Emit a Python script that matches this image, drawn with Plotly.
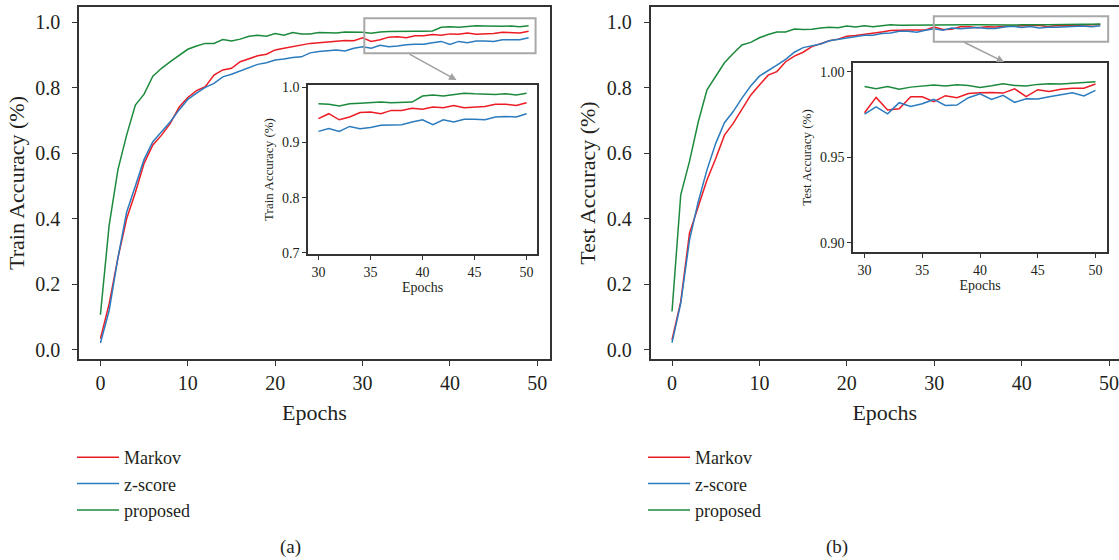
import plotly.graph_objects as go

# ---------------- data ----------------
epochs = list(range(50))

train_markov = [0.034, 0.14, 0.28, 0.40, 0.48, 0.569, 0.625, 0.655, 0.691, 0.74,
                0.770, 0.791, 0.803, 0.838, 0.854, 0.859, 0.879, 0.889, 0.897, 0.902,
                0.915, 0.92, 0.925, 0.932, 0.935, 0.937, 0.94, 0.942, 0.944,
                0.943, 0.952, 0.941, 0.946, 0.954, 0.955, 0.952, 0.958, 0.958, 0.962,
                0.960, 0.964, 0.963, 0.967, 0.963, 0.964, 0.965, 0.969, 0.969, 0.967, 0.972]
train_zscore = [0.021, 0.12, 0.28, 0.42, 0.50, 0.581, 0.635, 0.666, 0.696, 0.732,
                0.764, 0.783, 0.801, 0.813, 0.833, 0.841, 0.851, 0.859, 0.871, 0.876,
                0.884, 0.887, 0.892, 0.894, 0.906, 0.910, 0.912, 0.915, 0.912,
                0.920, 0.925, 0.920, 0.929, 0.925, 0.927, 0.931, 0.932, 0.932, 0.937,
                0.941, 0.932, 0.941, 0.937, 0.942, 0.942, 0.941, 0.946, 0.947, 0.946, 0.952]
train_proposed = [0.107, 0.38, 0.549, 0.655, 0.747, 0.78, 0.835, 0.859, 0.879, 0.899,
                  0.917, 0.927, 0.935, 0.935, 0.947, 0.942, 0.948, 0.957, 0.960, 0.957,
                  0.965, 0.960, 0.968, 0.964, 0.964, 0.968, 0.967, 0.967, 0.970,
                  0.970, 0.969, 0.966, 0.970, 0.971, 0.972, 0.973, 0.972, 0.972, 0.973,
                  0.984, 0.986, 0.984, 0.986, 0.989, 0.988, 0.987, 0.987, 0.988, 0.986, 0.989]

test_markov = [0.03, 0.147, 0.356, 0.437, 0.518, 0.584, 0.655, 0.691, 0.732, 0.777,
               0.808, 0.838, 0.849, 0.879, 0.896, 0.908, 0.925, 0.933, 0.943, 0.948,
               0.957, 0.959, 0.962, 0.967, 0.970, 0.974, 0.976, 0.976, 0.976,
               0.976, 0.985, 0.9776, 0.9784, 0.9854, 0.9854, 0.9825, 0.986, 0.9848, 0.9873,
               0.9877, 0.9879, 0.9875, 0.990, 0.9854, 0.9895, 0.9885, 0.9897, 0.9904, 0.9904, 0.9928]
test_zscore = [0.022, 0.142, 0.335, 0.452, 0.549, 0.630, 0.693, 0.727, 0.768, 0.805,
               0.835, 0.851, 0.869, 0.886, 0.908, 0.922, 0.927, 0.933, 0.943, 0.947,
               0.953, 0.955, 0.960, 0.960, 0.965, 0.967, 0.972, 0.972, 0.969,
               0.9752, 0.9795, 0.9754, 0.9819, 0.9797, 0.9813, 0.9838, 0.9803, 0.9805, 0.9848,
               0.9871, 0.9838, 0.9862, 0.9821, 0.9842, 0.984, 0.9854, 0.9867, 0.9877, 0.9858, 0.9891]
test_proposed = [0.117, 0.473, 0.575, 0.695, 0.793, 0.835, 0.876, 0.904, 0.930, 0.938,
                 0.952, 0.962, 0.970, 0.970, 0.979, 0.977, 0.978, 0.982, 0.984, 0.983,
                 0.988, 0.985, 0.989, 0.986, 0.988, 0.992, 0.990, 0.990, 0.991,
                 0.9914, 0.990, 0.9914, 0.9897, 0.991, 0.9918, 0.9922, 0.9916, 0.9924, 0.992,
                 0.9908, 0.9918, 0.993, 0.992, 0.9916, 0.9926, 0.993, 0.9928, 0.9934, 0.9936, 0.9942]

series_names = ["Markov", "z-score", "proposed"]
colors = ["#ec1c24", "#2b7bbf", "#1c8a3c"]

INSET_FROM = 29  # inset shows the last 21 epochs, labelled 30..50
inset_epochs = [e + 1 for e in epochs[INSET_FROM:]]

FONT = "Liberation Serif, Times New Roman, serif"
TXT = "#231f20"
W, H = 1119, 560


def px_x(p):
    return p / W


def px_y(p):
    return 1 - p / H


fig = go.Figure()

train = [train_markov, train_zscore, train_proposed]
test = [test_markov, test_zscore, test_proposed]

for name, col, ys in zip(series_names, colors, train):
    fig.add_trace(go.Scatter(x=epochs, y=ys, mode="lines", name=name,
                             line=dict(color=col, width=1.5),
                             xaxis="x", yaxis="y", legend="legend"))
    fig.add_trace(go.Scatter(x=inset_epochs, y=ys[INSET_FROM:], mode="lines", name=name,
                             line=dict(color=col, width=1.5), showlegend=False,
                             xaxis="x2", yaxis="y2"))
for name, col, ys in zip(series_names, colors, test):
    fig.add_trace(go.Scatter(x=epochs, y=ys, mode="lines", name=name,
                             line=dict(color=col, width=1.5),
                             xaxis="x3", yaxis="y3", legend="legend2"))
    fig.add_trace(go.Scatter(x=inset_epochs, y=ys[INSET_FROM:], mode="lines", name=name,
                             line=dict(color=col, width=1.5), showlegend=False,
                             xaxis="x4", yaxis="y4"))

axcol = "#333333"
main_common = dict(showline=True, linecolor=axcol, linewidth=1.5, ticks="outside",
                   ticklen=5, tickwidth=1.2, tickcolor=axcol, showgrid=False, zeroline=False,
                   tickfont=dict(family=FONT, size=20, color=TXT), automargin=False)
inset_common = dict(showline=True, linecolor=axcol, linewidth=1.5, mirror=True,
                    ticks="outside", ticklen=4, tickwidth=1.1, tickcolor=axcol,
                    showgrid=False, zeroline=False,
                    tickfont=dict(family=FONT, size=14, color=TXT), automargin=False)

main_y_dom = [px_y(359), px_y(7)]

fig.update_layout(
    width=W, height=H,
    margin=dict(l=0, r=0, t=0, b=0),
    paper_bgcolor="white", plot_bgcolor="white",
    font=dict(family=FONT, color=TXT),
    xaxis=dict(domain=[px_x(79), px_x(550)], range=[-2.45, 51.45], tickvals=[0, 10, 20, 30, 40, 50],
               mirror=True, anchor="y", ticklabeloverflow="allow",
               title=dict(text="Epochs", font=dict(family=FONT, size=22, color=TXT), standoff=12),
               **main_common),
    yaxis=dict(domain=main_y_dom, range=[-0.028, 1.046], tickvals=[0, 0.2, 0.4, 0.6, 0.8, 1.0],
               tickformat=".1f", mirror=True, anchor="x", ticklabelstandoff=8,
               title=dict(text="Train Accuracy (%)", font=dict(family=FONT, size=22, color=TXT), standoff=5),
               **main_common),
    xaxis2=dict(domain=[px_x(308), px_x(537)], range=[29, 51], tickvals=[30, 35, 40, 45, 50],
                anchor="y2",
                title=dict(text="Epochs", font=dict(family=FONT, size=14, color=TXT), standoff=3),
                **inset_common),
    yaxis2=dict(domain=[px_y(254), px_y(85)], range=[0.698, 1.004], tickvals=[0.7, 0.8, 0.9, 1.0],
                tickformat=".1f", anchor="x2",
                title=dict(text="Train Accuracy (%)", font=dict(family=FONT, size=13, color=TXT), standoff=5),
                **inset_common),
    xaxis3=dict(domain=[px_x(650.6), 1.0], range=[-2.45, 51.14], tickvals=[0, 10, 20, 30, 40, 50],
                mirror=True, anchor="y3", ticklabeloverflow="allow",
                title=dict(text="Epochs", font=dict(family=FONT, size=22, color=TXT), standoff=12),
                **main_common),
    yaxis3=dict(domain=main_y_dom, range=[-0.028, 1.046], tickvals=[0, 0.2, 0.4, 0.6, 0.8, 1.0],
                tickformat=".1f", mirror=False, anchor="x3", ticklabelstandoff=8,
                title=dict(text="Test Accuracy (%)", font=dict(family=FONT, size=22, color=TXT), standoff=5),
                **main_common),
    xaxis4=dict(domain=[px_x(853), px_x(1107)], range=[29, 51], tickvals=[30, 35, 40, 45, 50],
                anchor="y4",
                title=dict(text="Epochs", font=dict(family=FONT, size=14, color=TXT), standoff=3),
                **inset_common),
    yaxis4=dict(domain=[px_y(252), px_y(63)], range=[0.8946, 1.0051], tickvals=[0.90, 0.95, 1.00],
                tickformat=".2f", anchor="x4",
                title=dict(text="Test Accuracy (%)", font=dict(family=FONT, size=13, color=TXT), standoff=5),
                **inset_common),
    legend=dict(x=px_x(72), y=px_y(439), xanchor="left", yanchor="top",
                font=dict(family=FONT, size=18, color=TXT), bgcolor="rgba(0,0,0,0)",
                itemwidth=42, tracegroupgap=0),
    legend2=dict(x=px_x(643), y=px_y(439), xanchor="left", yanchor="top",
                 font=dict(family=FONT, size=18, color=TXT), bgcolor="rgba(0,0,0,0)",
                 itemwidth=42, tracegroupgap=0),
)

# zoom boxes
fig.add_shape(type="rect", xref="x", yref="y", x0=30.2, x1=49.8, y0=0.905, y1=1.012,
              line=dict(color="#a8a8a8", width=2))
fig.add_shape(type="rect", xref="x3", yref="y3", x0=29.95, x1=49.9, y0=0.94, y1=1.018,
              line=dict(color="#a8a8a8", width=2))

# arrows
fig.add_annotation(xref="x", yref="y", axref="x", ayref="y", x=40.75, y=0.823, ax=35.2, ay=0.905,
                   text="", showarrow=True, arrowhead=2, arrowsize=1, arrowwidth=1.5,
                   arrowcolor="#a0a0a0")
fig.add_annotation(xref="x3", yref="y3", axref="x3", ayref="y3", x=38.0, y=0.878, ax=33.3, ay=0.94,
                   text="", showarrow=True, arrowhead=2, arrowsize=1, arrowwidth=1.5,
                   arrowcolor="#a0a0a0")

# captions
fig.add_annotation(xref="paper", yref="paper", x=px_x(278), y=px_y(547), yanchor="middle",
                   text="(a)", showarrow=False, font=dict(family=FONT, size=19, color=TXT))
fig.add_annotation(xref="paper", yref="paper", x=px_x(850), y=px_y(547), yanchor="middle",
                   text="(b)", showarrow=False, font=dict(family=FONT, size=19, color=TXT))

fig.write_html("out.html")
